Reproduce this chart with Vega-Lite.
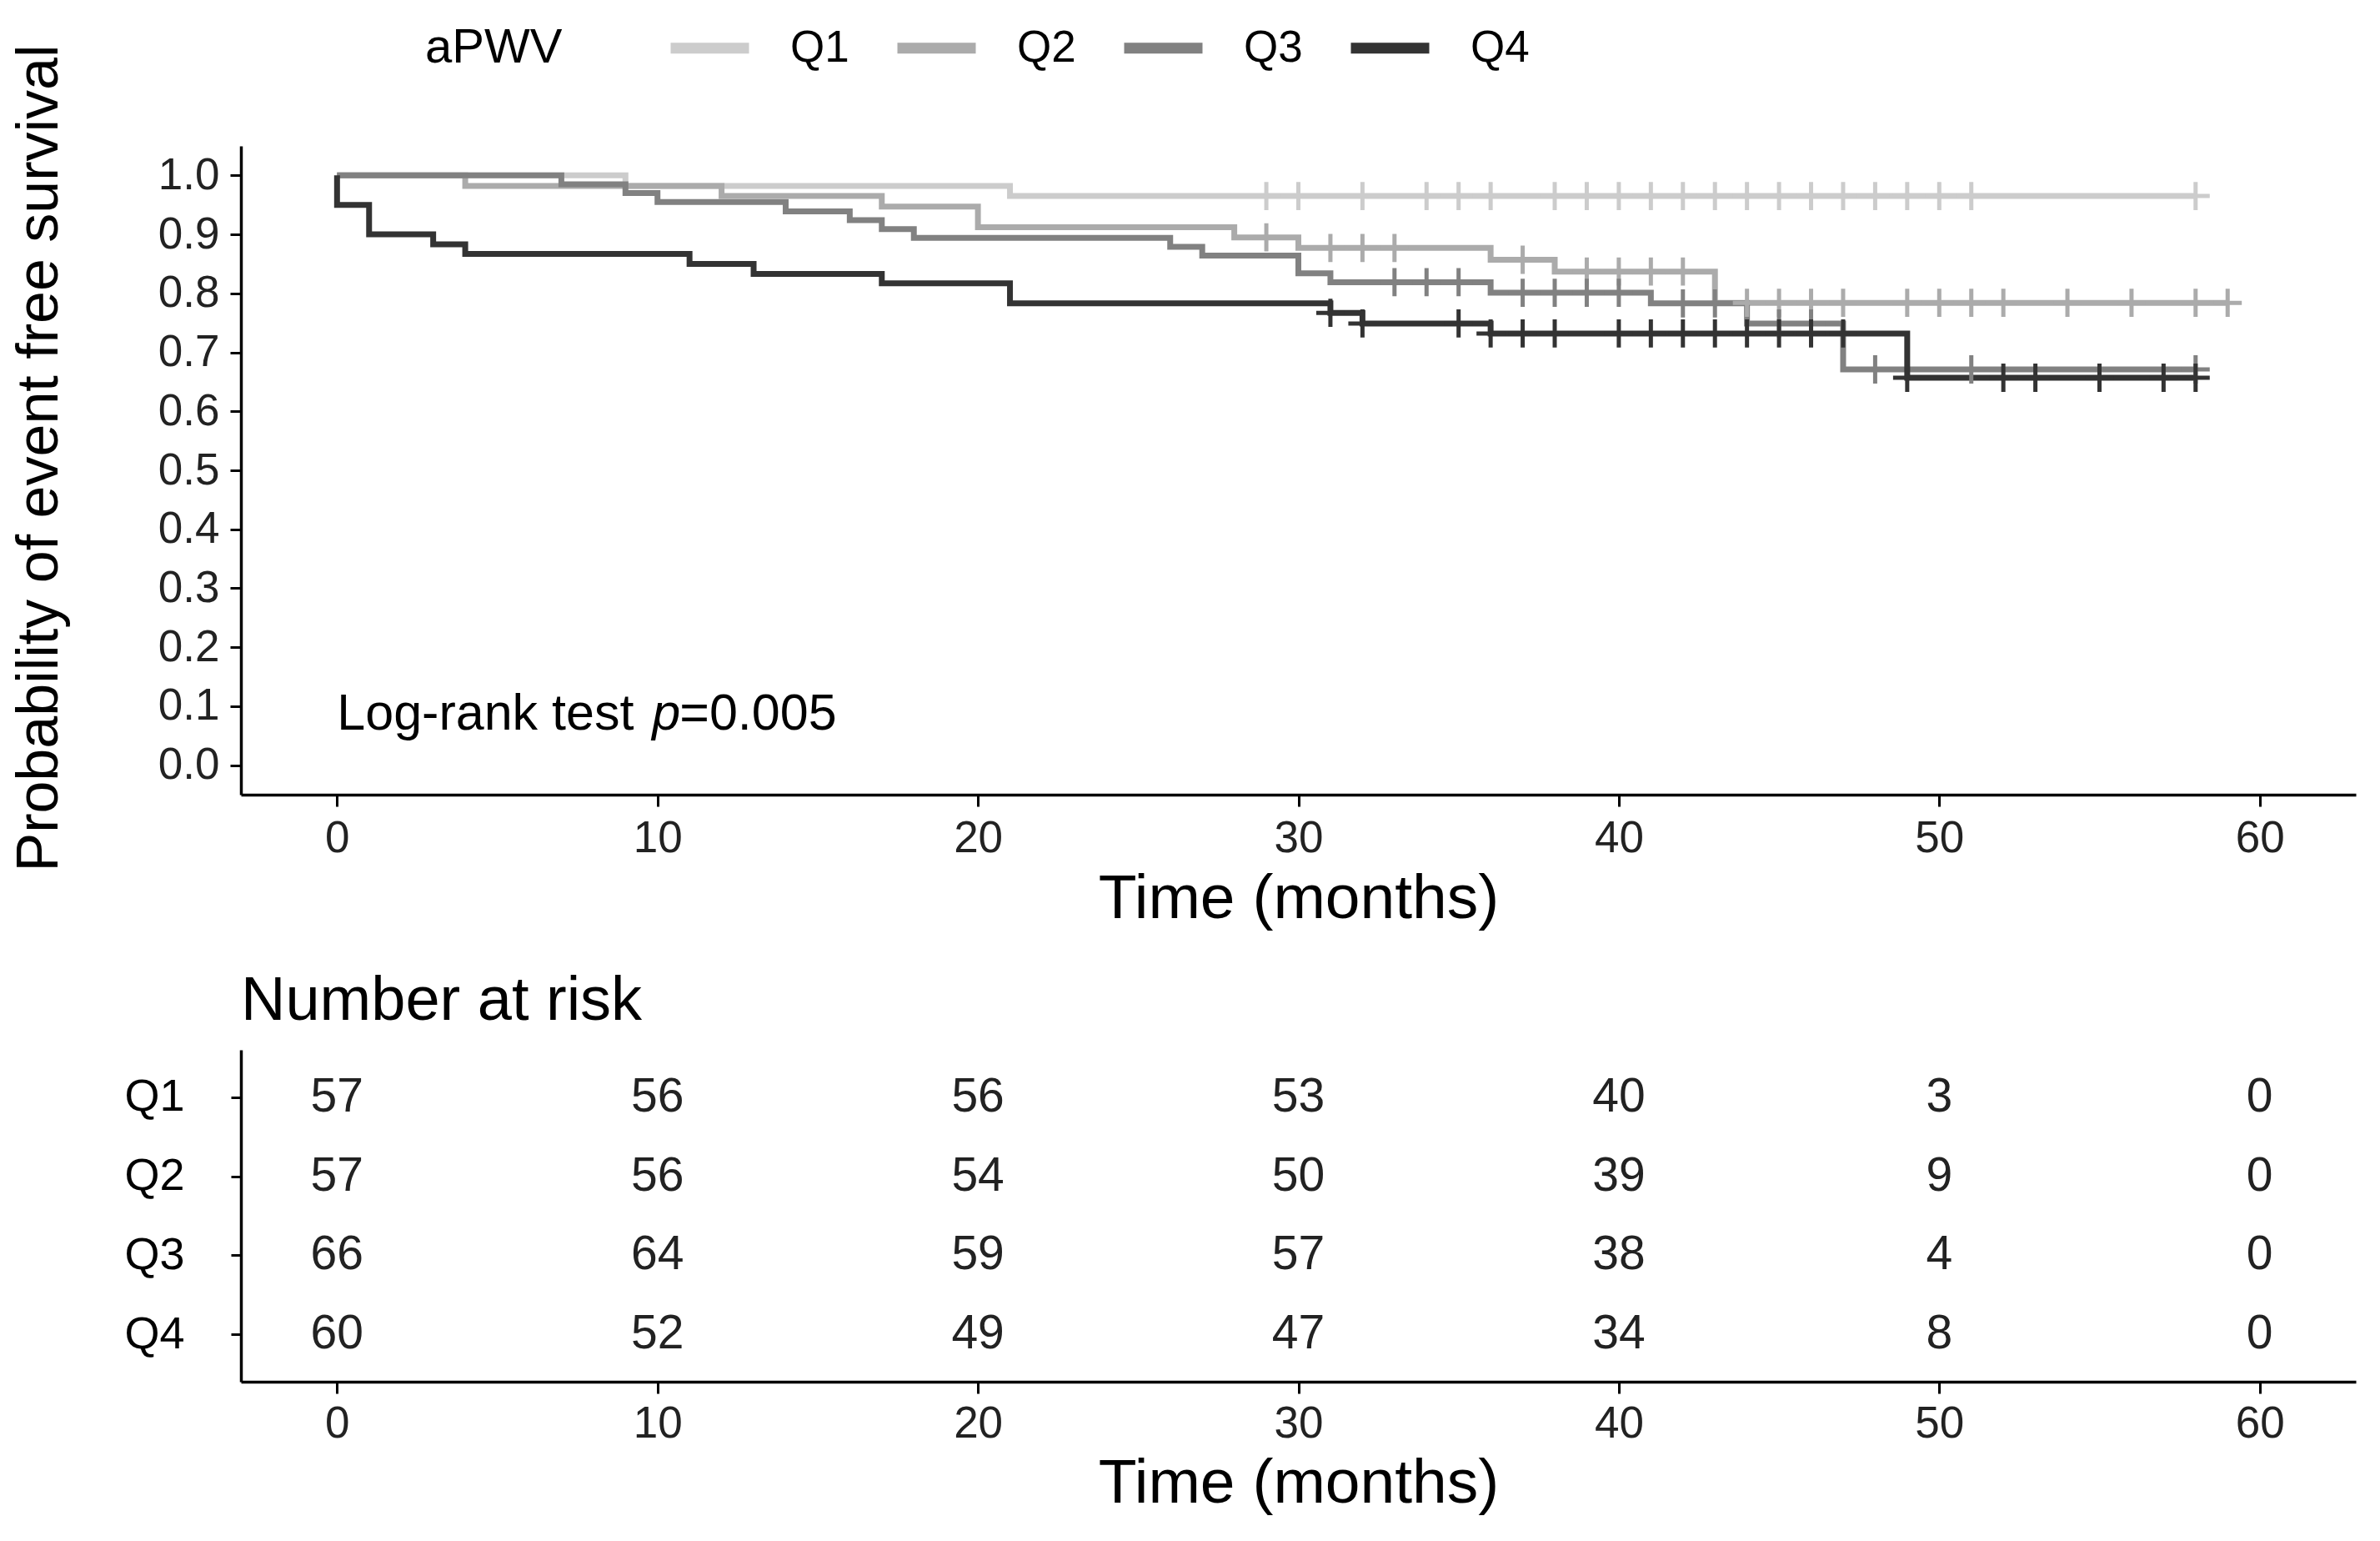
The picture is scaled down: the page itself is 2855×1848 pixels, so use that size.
{
  "$schema": "https://vega.github.io/schema/vega-lite/v6.json",
  "background": "white",
  "padding": {"left": 12, "top": 31, "right": 30, "bottom": 8},
  "config": {
    "font": "Liberation Sans",
    "view": {"stroke": null},
    "axis": {
      "grid": false,
      "domainColor": "black",
      "domainWidth": 3.5,
      "tickColor": "black",
      "tickWidth": 3,
      "tickSize": 14,
      "labelFont": "Liberation Sans",
      "labelFontSize": 53,
      "labelColor": "#222222",
      "titleFont": "Liberation Sans",
      "titleFontSize": 75,
      "titleFontWeight": "normal",
      "titleColor": "black"
    },
    "concat": {"spacing": 49}
  },
  "datasets": {
    "curves": [
      {"grp": "Q1", "time": 0, "surv": 1},
      {"grp": "Q1", "time": 9, "surv": 0.982},
      {"grp": "Q1", "time": 21, "surv": 0.965},
      {"grp": "Q1", "time": 58, "surv": 0.965},
      {"grp": "Q2", "time": 0, "surv": 1},
      {"grp": "Q2", "time": 4, "surv": 0.982},
      {"grp": "Q2", "time": 12, "surv": 0.965},
      {"grp": "Q2", "time": 17, "surv": 0.947},
      {"grp": "Q2", "time": 20, "surv": 0.912},
      {"grp": "Q2", "time": 28, "surv": 0.895},
      {"grp": "Q2", "time": 30, "surv": 0.877},
      {"grp": "Q2", "time": 36, "surv": 0.857},
      {"grp": "Q2", "time": 38, "surv": 0.837},
      {"grp": "Q2", "time": 43, "surv": 0.784},
      {"grp": "Q2", "time": 59, "surv": 0.784},
      {"grp": "Q3", "time": 0, "surv": 1},
      {"grp": "Q3", "time": 7, "surv": 0.985},
      {"grp": "Q3", "time": 9, "surv": 0.97},
      {"grp": "Q3", "time": 10, "surv": 0.955},
      {"grp": "Q3", "time": 14, "surv": 0.939},
      {"grp": "Q3", "time": 16, "surv": 0.924},
      {"grp": "Q3", "time": 17, "surv": 0.909},
      {"grp": "Q3", "time": 18, "surv": 0.894},
      {"grp": "Q3", "time": 26, "surv": 0.879},
      {"grp": "Q3", "time": 27, "surv": 0.864},
      {"grp": "Q3", "time": 30, "surv": 0.834},
      {"grp": "Q3", "time": 31, "surv": 0.819},
      {"grp": "Q3", "time": 36, "surv": 0.801},
      {"grp": "Q3", "time": 41, "surv": 0.783},
      {"grp": "Q3", "time": 44, "surv": 0.749},
      {"grp": "Q3", "time": 47, "surv": 0.671},
      {"grp": "Q3", "time": 58, "surv": 0.671},
      {"grp": "Q4", "time": 0, "surv": 1},
      {"grp": "Q4", "time": 0, "surv": 0.95},
      {"grp": "Q4", "time": 1, "surv": 0.9},
      {"grp": "Q4", "time": 3, "surv": 0.883},
      {"grp": "Q4", "time": 4, "surv": 0.867},
      {"grp": "Q4", "time": 11, "surv": 0.85},
      {"grp": "Q4", "time": 13, "surv": 0.833},
      {"grp": "Q4", "time": 17, "surv": 0.817},
      {"grp": "Q4", "time": 21, "surv": 0.783},
      {"grp": "Q4", "time": 31, "surv": 0.767},
      {"grp": "Q4", "time": 32, "surv": 0.749},
      {"grp": "Q4", "time": 36, "surv": 0.732},
      {"grp": "Q4", "time": 49, "surv": 0.657},
      {"grp": "Q4", "time": 58, "surv": 0.657}
    ],
    "censors": [
      {"grp": "Q1", "time": 29, "surv": 0.965},
      {"grp": "Q1", "time": 30, "surv": 0.965},
      {"grp": "Q1", "time": 32, "surv": 0.965},
      {"grp": "Q1", "time": 34, "surv": 0.965},
      {"grp": "Q1", "time": 35, "surv": 0.965},
      {"grp": "Q1", "time": 36, "surv": 0.965},
      {"grp": "Q1", "time": 38, "surv": 0.965},
      {"grp": "Q1", "time": 39, "surv": 0.965},
      {"grp": "Q1", "time": 40, "surv": 0.965},
      {"grp": "Q1", "time": 41, "surv": 0.965},
      {"grp": "Q1", "time": 42, "surv": 0.965},
      {"grp": "Q1", "time": 43, "surv": 0.965},
      {"grp": "Q1", "time": 44, "surv": 0.965},
      {"grp": "Q1", "time": 45, "surv": 0.965},
      {"grp": "Q1", "time": 46, "surv": 0.965},
      {"grp": "Q1", "time": 47, "surv": 0.965},
      {"grp": "Q1", "time": 48, "surv": 0.965},
      {"grp": "Q1", "time": 49, "surv": 0.965},
      {"grp": "Q1", "time": 50, "surv": 0.965},
      {"grp": "Q1", "time": 51, "surv": 0.965},
      {"grp": "Q1", "time": 58, "surv": 0.965},
      {"grp": "Q2", "time": 29, "surv": 0.895},
      {"grp": "Q2", "time": 31, "surv": 0.877},
      {"grp": "Q2", "time": 32, "surv": 0.877},
      {"grp": "Q2", "time": 33, "surv": 0.877},
      {"grp": "Q2", "time": 37, "surv": 0.857},
      {"grp": "Q2", "time": 39, "surv": 0.837},
      {"grp": "Q2", "time": 40, "surv": 0.837},
      {"grp": "Q2", "time": 41, "surv": 0.837},
      {"grp": "Q2", "time": 42, "surv": 0.837},
      {"grp": "Q2", "time": 44, "surv": 0.784},
      {"grp": "Q2", "time": 45, "surv": 0.784},
      {"grp": "Q2", "time": 46, "surv": 0.784},
      {"grp": "Q2", "time": 47, "surv": 0.784},
      {"grp": "Q2", "time": 49, "surv": 0.784},
      {"grp": "Q2", "time": 50, "surv": 0.784},
      {"grp": "Q2", "time": 51, "surv": 0.784},
      {"grp": "Q2", "time": 52, "surv": 0.784},
      {"grp": "Q2", "time": 54, "surv": 0.784},
      {"grp": "Q2", "time": 56, "surv": 0.784},
      {"grp": "Q2", "time": 58, "surv": 0.784},
      {"grp": "Q2", "time": 59, "surv": 0.784},
      {"grp": "Q3", "time": 33, "surv": 0.819},
      {"grp": "Q3", "time": 34, "surv": 0.819},
      {"grp": "Q3", "time": 35, "surv": 0.819},
      {"grp": "Q3", "time": 37, "surv": 0.801},
      {"grp": "Q3", "time": 38, "surv": 0.801},
      {"grp": "Q3", "time": 39, "surv": 0.801},
      {"grp": "Q3", "time": 40, "surv": 0.801},
      {"grp": "Q3", "time": 42, "surv": 0.783},
      {"grp": "Q3", "time": 43, "surv": 0.783},
      {"grp": "Q3", "time": 45, "surv": 0.749},
      {"grp": "Q3", "time": 46, "surv": 0.749},
      {"grp": "Q3", "time": 48, "surv": 0.671},
      {"grp": "Q3", "time": 51, "surv": 0.671},
      {"grp": "Q3", "time": 58, "surv": 0.671},
      {"grp": "Q4", "time": 31, "surv": 0.767},
      {"grp": "Q4", "time": 32, "surv": 0.749},
      {"grp": "Q4", "time": 35, "surv": 0.749},
      {"grp": "Q4", "time": 36, "surv": 0.732},
      {"grp": "Q4", "time": 37, "surv": 0.732},
      {"grp": "Q4", "time": 38, "surv": 0.732},
      {"grp": "Q4", "time": 40, "surv": 0.732},
      {"grp": "Q4", "time": 41, "surv": 0.732},
      {"grp": "Q4", "time": 42, "surv": 0.732},
      {"grp": "Q4", "time": 43, "surv": 0.732},
      {"grp": "Q4", "time": 44, "surv": 0.732},
      {"grp": "Q4", "time": 45, "surv": 0.732},
      {"grp": "Q4", "time": 46, "surv": 0.732},
      {"grp": "Q4", "time": 47, "surv": 0.732},
      {"grp": "Q4", "time": 49, "surv": 0.657},
      {"grp": "Q4", "time": 52, "surv": 0.657},
      {"grp": "Q4", "time": 53, "surv": 0.657},
      {"grp": "Q4", "time": 55, "surv": 0.657},
      {"grp": "Q4", "time": 57, "surv": 0.657},
      {"grp": "Q4", "time": 58, "surv": 0.657}
    ],
    "risk": [
      {"grp": "Q1", "time": 0, "n": 57}, {"grp": "Q1", "time": 10, "n": 56}, {"grp": "Q1", "time": 20, "n": 56}, {"grp": "Q1", "time": 30, "n": 53}, {"grp": "Q1", "time": 40, "n": 40}, {"grp": "Q1", "time": 50, "n": 3}, {"grp": "Q1", "time": 60, "n": 0},
      {"grp": "Q2", "time": 0, "n": 57}, {"grp": "Q2", "time": 10, "n": 56}, {"grp": "Q2", "time": 20, "n": 54}, {"grp": "Q2", "time": 30, "n": 50}, {"grp": "Q2", "time": 40, "n": 39}, {"grp": "Q2", "time": 50, "n": 9}, {"grp": "Q2", "time": 60, "n": 0},
      {"grp": "Q3", "time": 0, "n": 66}, {"grp": "Q3", "time": 10, "n": 64}, {"grp": "Q3", "time": 20, "n": 59}, {"grp": "Q3", "time": 30, "n": 57}, {"grp": "Q3", "time": 40, "n": 38}, {"grp": "Q3", "time": 50, "n": 4}, {"grp": "Q3", "time": 60, "n": 0},
      {"grp": "Q4", "time": 0, "n": 60}, {"grp": "Q4", "time": 10, "n": 52}, {"grp": "Q4", "time": 20, "n": 49}, {"grp": "Q4", "time": 30, "n": 47}, {"grp": "Q4", "time": 40, "n": 34}, {"grp": "Q4", "time": 50, "n": 8}, {"grp": "Q4", "time": 60, "n": 0}
    ]
  },
  "vconcat": [
    {
      "width": 2537,
      "height": 778,
      "layer": [
        {
          "data": {"name": "curves"},
          "mark": {"type": "line", "interpolate": "step-after", "strokeWidth": 7},
          "encoding": {
            "x": {
              "field": "time", "type": "quantitative",
              "scale": {"domain": [-3, 63], "nice": false, "zero": false},
              "axis": {"values": [0, 10, 20, 30, 40, 50, 60], "title": "Time (months)", "labelPadding": 12, "titlePadding": 9}
            },
            "y": {
              "field": "surv", "type": "quantitative",
              "scale": {"domain": [-0.05, 1.05], "nice": false},
              "axis": {"values": [0, 0.1, 0.2, 0.3, 0.4, 0.5, 0.6, 0.7, 0.8, 0.9, 1.0], "format": ".1f", "title": "Probability of event free survival", "titleFontSize": 70, "titleY": 374, "tickSize": 13, "labelPadding": 13, "titlePadding": 106, "labelFontSize": 53}
            },
            "color": {
              "field": "grp", "type": "nominal",
              "scale": {"domain": ["Q1", "Q2", "Q3", "Q4"], "range": ["#CCCCCC", "#ABABAB", "#818181", "#333333"]},
              "legend": {
                "orient": "none", "legendX": 221, "legendY": -144,
                "direction": "horizontal",
                "title": "aPWV", "titleOrient": "left",
                "titleFontSize": 58, "titleFontWeight": "normal", "titleColor": "black", "titlePadding": 150,
                "labelFontSize": 53, "labelColor": "black", "labelOffset": 70,
                "symbolType": "M-4.7,0H4.7", "symbolSize": 400, "symbolStrokeWidth": 13,
                "columnPadding": 31, "padding": 0
              }
            },
            "order": {"value": null}
          }
        },
        {
          "data": {"name": "censors"},
          "mark": {"type": "point", "shape": "M-1,0H1M0,-1V1", "filled": false, "size": 1150, "strokeWidth": 5, "opacity": 1},
          "encoding": {
            "x": {"field": "time", "type": "quantitative"},
            "y": {"field": "surv", "type": "quantitative"},
            "color": {"field": "grp", "type": "nominal"}
          }
        },
        {
          "data": {"values": [{}]},
          "mark": {"type": "text", "text": "Log-rank test", "align": "left", "baseline": "alphabetic", "fontSize": 61, "color": "black"},
          "encoding": {"x": {"datum": 0}, "y": {"datum": 0.06}}
        },
        {
          "data": {"values": [{}]},
          "mark": {"type": "text", "text": "p", "align": "left", "baseline": "alphabetic", "fontSize": 61, "fontStyle": "italic", "color": "black", "dx": 378},
          "encoding": {"x": {"datum": 0}, "y": {"datum": 0.06}}
        },
        {
          "data": {"values": [{}]},
          "mark": {"type": "text", "text": "=0.005", "align": "left", "baseline": "alphabetic", "fontSize": 61, "color": "black", "dx": 411},
          "encoding": {"x": {"datum": 0}, "y": {"datum": 0.06}}
        }
      ]
    },
    {
      "width": 2537,
      "height": 398,
      "title": {"text": "Number at risk", "anchor": "start", "fontSize": 74, "fontWeight": "normal", "color": "black", "baseline": "alphabetic", "offset": -38, "frame": "group"},
      "data": {"name": "risk"},
      "mark": {"type": "text", "fontSize": 57, "color": "#222222"},
      "encoding": {
        "x": {
          "field": "time", "type": "quantitative",
          "scale": {"domain": [-3, 63], "nice": false, "zero": false},
          "axis": {"values": [0, 10, 20, 30, 40, 50, 60], "title": "Time (months)", "labelPadding": 10, "titlePadding": 8}
        },
        "y": {
          "field": "grp", "type": "nominal",
          "scale": {"type": "point", "domain": ["Q1", "Q2", "Q3", "Q4"], "padding": 0.6},
          "axis": {"title": null, "tickSize": 12, "labelPadding": 56, "labelFontSize": 54, "labelColor": "black"}
        },
        "text": {"field": "n", "type": "quantitative"}
      }
    }
  ]
}
